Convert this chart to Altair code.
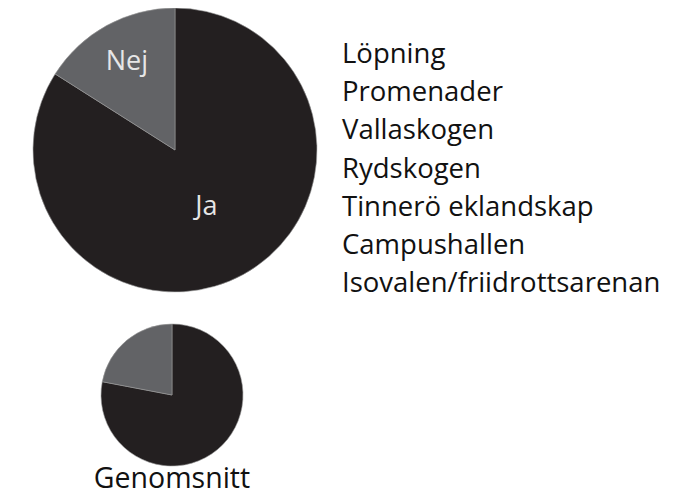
import altair as alt
import pandas as pd

answers = ["Ja", "Nej"]
main_share = [84, 16]
avg_share = [78, 22]
places = ["Löpning", "Promenader", "Vallaskogen", "Rydskogen",
          "Tinnerö eklandskap", "Campushallen", "Isovalen/friidrottsarenan"]
avg_title = ["Genomsnitt"]

main_df = pd.DataFrame({"svar": answers, "andel": main_share, "ord": [0, 1]})
avg_df = pd.DataFrame({"svar": answers, "andel": avg_share, "ord": [0, 1]})
places_df = pd.DataFrame({"plats": places})
title_df = pd.DataFrame({"t": avg_title})

FONT = "Open Sans"
color = alt.Color("svar:N", scale=alt.Scale(domain=answers, range=["#231f20", "#626366"]), legend=None)

def pie(df, cx, cy, r):
    base = alt.Chart(df).encode(
        theta=alt.Theta("andel:Q", stack=True),
        order=alt.Order("ord:Q"),
        x=alt.value(cx), y=alt.value(cy),
    )
    return base.mark_arc(radius=r, stroke="#9a9a9a", strokeWidth=0.6).encode(color=color)

big = pie(main_df, 167, 142, 142)
small = pie(avg_df, 164, 387, 71)

lab_base = alt.Chart(main_df).transform_window(
    cum="sum(andel)", sort=[alt.SortField("ord")]
).transform_calculate(
    mid="datum.cum - datum.andel / 2"
).encode(
    theta=alt.Theta("mid:Q", stack=None, scale=alt.Scale(domain=[0, 100])),
    x=alt.value(167), y=alt.value(142),
    text="svar:N",
)
nej_lab = lab_base.transform_filter(alt.datum.svar == "Nej").mark_text(
    radius=100, font=FONT, fontSize=27, color="#e6e6e6", baseline="middle")
ja_lab = lab_base.transform_filter(alt.datum.svar == "Ja").mark_text(
    radius=65, font=FONT, fontSize=27, color="#e6e6e6", baseline="middle")

place_text = alt.Chart(places_df).mark_text(
    align="left", baseline="alphabetic", font=FONT, fontSize=27.5, color="#111111"
).encode(
    x=alt.value(334),
    y=alt.Y("plats:N", sort=places, axis=None,
            scale=alt.Scale(type="point", range=[55, 284], padding=0)),
    text="plats:N",
)

title_text = alt.Chart(title_df).mark_text(
    align="center", baseline="alphabetic", font=FONT, fontSize=28.5, color="#111111"
).encode(x=alt.value(164), y=alt.value(480), text="t:N")

chart = alt.layer(big, small, nej_lab, ja_lab, place_text, title_text).resolve_scale(
    theta="independent"
).properties(
    width=680, height=481, padding=0, autosize=alt.AutoSizeParams(type="none")
).configure_view(stroke=None)

chart.save("out.html", embed_options={"renderer": "svg", "actions": False})
